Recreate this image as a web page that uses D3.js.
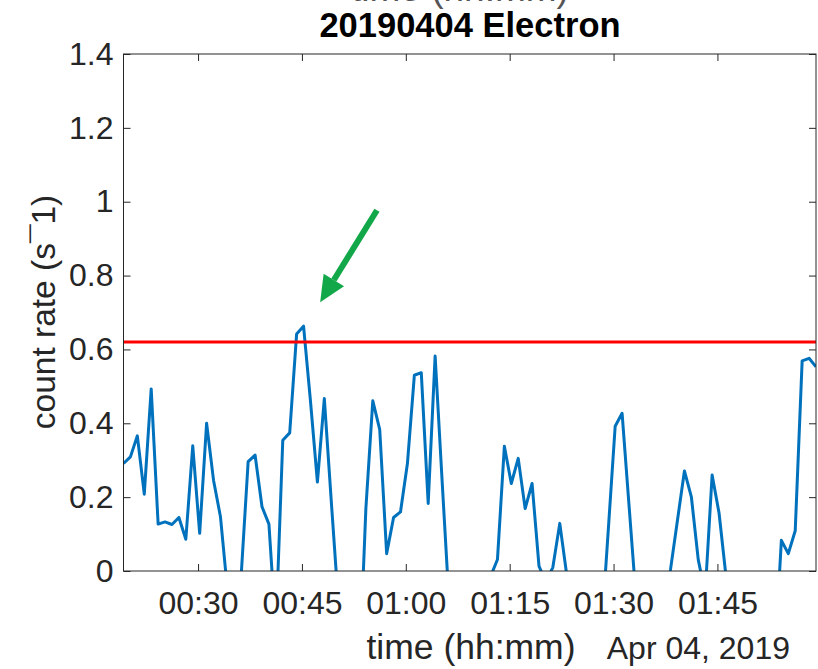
<!DOCTYPE html>
<html>
<head>
<meta charset="utf-8">
<script src="https://cdn.jsdelivr.net/npm/d3@7"></script>
<style>
  body { margin: 0; background: #fff; }
  svg { display: block; font-family: "Liberation Sans", Arial, sans-serif; }
  .axis text { fill: #262626; }
  .axis path, .axis line { stroke: #262626; }
</style>
</head>
<body>
<svg id="chart" width="818" height="669"></svg>
<script>
// data
const titleText = "20190404 Electron";
const startTime = new Date(Date.UTC(2019, 3, 4, 0, 19, 14));
const stepMinutes = 1;
const countRate = [
  0.291, 0.309, 0.366, 0.208, 0.493, 0.127, 0.133, 0.126, 0.145, 0.086,
  0.339, 0.102, 0.400, 0.246, 0.147, -0.05, -0.10, -0.01, 0.296, 0.314,
  0.174, 0.127, -0.16, 0.354, 0.374, 0.642, 0.663, 0.460, 0.241, 0.467,
  0.190, -0.08, -0.15, -0.20, -0.30, 0.169, 0.461, 0.383, 0.047, 0.145,
  0.160, 0.291, 0.530, 0.537, 0.183, 0.582, 0.247, -0.08, -0.10, -0.10,
  -0.10, -0.10, -0.10, -0.015, 0.031, 0.338, 0.237, 0.305, 0.169, 0.237,
  0.013, -0.03, 0.010, 0.129, -0.01, -0.10, -0.10, -0.10, -0.10, -0.17,
  0.110, 0.392, 0.427, 0.178, -0.07, -0.10, -0.10, -0.10, -0.10, 0.005,
  0.138, 0.271, 0.201, 0.030, -0.06, 0.260, 0.157, -0.014, -0.10, -0.10,
  -0.10, -0.10, -0.10, -0.10, -0.25, 0.083, 0.047, 0.109, 0.569, 0.576,
  0.553
];
const threshold = 0.62;
const yTicks = [0, 0.2, 0.4, 0.6, 0.8, 1.0, 1.2, 1.4];
// arrow annotation: [minutes after start, value]
const arrowTail = [36.6, 0.977];
const arrowTip = [28.4, 0.728];

const times = countRate.map((v, i) => d3.utcMinute.offset(startTime, i * stepMinutes));
const points = countRate.map((v, i) => ({ t: times[i], v: v }));

const svg = d3.select("#chart");
const plotLeft = 123.5, plotRight = 816, plotTop = 54, plotBottom = 571;

const x = d3.scaleUtc()
    .domain([times[0], times[times.length - 1]])
    .range([plotLeft, plotRight]);
const y = d3.scaleLinear()
    .domain([0, 1.4])
    .range([plotBottom, plotTop]);
const xMin = m => x(new Date(startTime.getTime() + m * 60000));

svg.append("defs").append("clipPath")
    .attr("id", "plotClip")
    .append("rect")
    .attr("x", plotLeft).attr("y", plotTop)
    .attr("width", plotRight - plotLeft).attr("height", plotBottom - plotTop);

// ghost label left over at the top
svg.append("text")
    .attr("x", 460).attr("y", 1)
    .attr("text-anchor", "middle")
    .attr("font-size", 37)
    .attr("fill", "#555")
    .text("time (hh:mm)");

svg.append("text")
    .attr("x", 470).attr("y", 37)
    .attr("text-anchor", "middle")
    .attr("font-size", 34.5)
    .attr("font-weight", "bold")
    .attr("fill", "#000")
    .text(titleText);

const plot = svg.append("g").attr("clip-path", "url(#plotClip)");

plot.append("path")
    .datum(points)
    .attr("fill", "none")
    .attr("stroke", "#0072BD")
    .attr("stroke-width", 3)
    .attr("stroke-linejoin", "round")
    .attr("d", d3.line().x(d => x(d.t)).y(d => y(d.v)));

plot.append("line")
    .attr("x1", plotLeft).attr("x2", plotRight)
    .attr("y1", y(threshold)).attr("y2", y(threshold))
    .attr("stroke", "#FF0000")
    .attr("stroke-width", 3);

// axes
const xTicks = d3.utcMinute.every(15);
const fmtY = d3.format("~g");

svg.append("g").attr("class", "axis")
    .attr("transform", `translate(0,${plotBottom})`)
    .call(d3.axisBottom(x).ticks(xTicks).tickFormat(d3.utcFormat("%H:%M"))
        .tickSizeInner(-7).tickSizeOuter(0).tickPadding(14))
    .call(g => g.selectAll("text").attr("font-size", 32).attr("dy", "0.9em"));

svg.append("g").attr("class", "axis")
    .attr("transform", `translate(0,${plotTop})`)
    .call(d3.axisTop(x).ticks(xTicks).tickFormat("")
        .tickSizeInner(-7).tickSizeOuter(0));

svg.append("g").attr("class", "axis")
    .attr("transform", `translate(${plotLeft},0)`)
    .call(d3.axisLeft(y).tickValues(yTicks).tickFormat(fmtY)
        .tickSizeInner(-7).tickSizeOuter(0).tickPadding(10))
    .call(g => g.selectAll("text").attr("font-size", 32));

svg.append("g").attr("class", "axis")
    .attr("transform", `translate(${plotRight},0)`)
    .call(d3.axisRight(y).tickValues(yTicks).tickFormat("")
        .tickSizeInner(-7).tickSizeOuter(0));

svg.selectAll(".axis path.domain").remove();
svg.append("rect")
    .attr("x", plotLeft).attr("y", plotTop)
    .attr("width", plotRight - plotLeft).attr("height", plotBottom - plotTop)
    .attr("fill", "none")
    .attr("stroke", "#262626")
    .attr("stroke-width", 1);

// axis labels
svg.append("text")
    .attr("x", 471).attr("y", 659)
    .attr("text-anchor", "middle")
    .attr("font-size", 35.5)
    .attr("fill", "#262626")
    .text("time (hh:mm)");

svg.append("text")
    .attr("x", 790).attr("y", 659)
    .attr("text-anchor", "end")
    .attr("font-size", 32)
    .attr("fill", "#262626")
    .text("Apr 04, 2019");

svg.append("text")
    .attr("transform", "translate(55,312) rotate(-90)")
    .attr("text-anchor", "middle")
    .attr("font-size", 33.5)
    .attr("fill", "#262626")
    .text("count rate (s\u00AF1)");

// green arrow
const tail = [xMin(arrowTail[0]), y(arrowTail[1])];
const tip = [xMin(arrowTip[0]), y(arrowTip[1])];
const ang = Math.atan2(tip[1] - tail[1], tip[0] - tail[0]);
const headLen = 26, headW = 12;
const base = [tip[0] - headLen * Math.cos(ang), tip[1] - headLen * Math.sin(ang)];
const px = -Math.sin(ang), py = Math.cos(ang);

svg.append("line")
    .attr("x1", tail[0]).attr("y1", tail[1])
    .attr("x2", base[0]).attr("y2", base[1])
    .attr("stroke", "#12A84A")
    .attr("stroke-width", 6);

svg.append("path")
    .attr("fill", "#12A84A")
    .attr("d", `M${tip[0]},${tip[1]}L${base[0] + px * headW},${base[1] + py * headW}L${base[0] - px * headW},${base[1] - py * headW}Z`);
</script>
</body>
</html>
